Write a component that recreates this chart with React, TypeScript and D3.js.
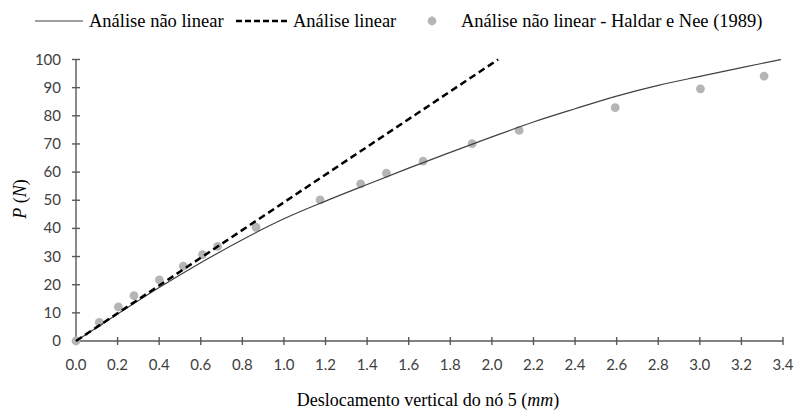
import React from "react";
import * as d3 from "d3";

// Data
const xTicks = [0, 0.2, 0.4, 0.6, 0.8, 1.0, 1.2, 1.4, 1.6, 1.8, 2.0, 2.2, 2.4, 2.6, 2.8, 3.0, 3.2, 3.4];
const yTicks = [0, 10, 20, 30, 40, 50, 60, 70, 80, 90, 100];

// Análise não linear (curve)
const nlX = [0, 0.2, 0.4, 0.6, 0.8, 1.0, 1.2, 1.4, 1.6, 1.8, 2.0, 2.2, 2.4, 2.6, 2.8, 3.0, 3.2, 3.39];
const nlY = [0, 9.6, 19.0, 27.8, 36.0, 43.4, 49.7, 55.6, 61.4, 67.0, 72.5, 77.8, 82.5, 87.0, 90.8, 94.0, 97.1, 100];

// Análise linear
const linX = [0, 2.03];
const linY = [0, 100];

// Haldar e Nee (1989)
const hnX = [0, 0.112, 0.204, 0.279, 0.401, 0.516, 0.608, 0.681, 0.866, 1.174, 1.369, 1.493, 1.669, 1.905, 2.131, 2.593, 3.003, 3.309];
const hnY = [0, 6.6, 12.1, 16.1, 21.7, 26.6, 30.7, 33.6, 40.4, 50.1, 55.8, 59.6, 63.9, 70.1, 74.8, 82.9, 89.6, 94.1];

const legendLabels = ["Análise não linear", "Análise linear", "Análise não linear - Haldar e Nee (1989)"];

export default function App() {
  const W = 795, H = 412;
  const x = d3.scaleLinear().domain([0, 3.4]).range([76, 783]);
  const y = d3.scaleLinear().domain([0, 100]).range([341, 59.5]);
  const axisColor = "#595959";
  const tickFont = "Lato, 'Open Sans', sans-serif";
  const serif = "'Liberation Serif', 'Times New Roman', serif";

  const line = d3.line<[number, number]>().x(d => x(d[0])).y(d => y(d[1])).curve(d3.curveMonotoneX);
  const nlPath = line(nlX.map((v, i) => [v, nlY[i]] as [number, number])) || "";
  const linPath = d3.line<[number, number]>().x(d => x(d[0])).y(d => y(d[1]))(linX.map((v, i) => [v, linY[i]] as [number, number])) || "";

  return (
    <svg width={W} height={H} style={{ position: "absolute", left: 0, top: 0, background: "#fff" }}>
      <rect width={W} height={H} fill="#fff" />
      {/* Legend */}
      <g fontFamily={serif} fontSize={18.5} fill="#000">
        <line x1={35} x2={83} y1={21} y2={21} stroke="#404040" strokeWidth={1.2} />
        <text x={89} y={27}>{legendLabels[0]}</text>
        <line x1={236} x2={288} y1={21} y2={21} stroke="#000" strokeWidth={2.5} strokeDasharray="6,3" />
        <text x={293} y={27}>{legendLabels[1]}</text>
        <circle cx={432} cy={21} r={4.4} fill="#b5b5b5" />
        <text x={461} y={27}>{legendLabels[2]}</text>
      </g>

      {/* Axes */}
      <line x1={x(0)} x2={x(3.4)} y1={y(0)} y2={y(0)} stroke={axisColor} strokeWidth={1.4} />
      <line x1={x(0)} x2={x(0)} y1={y(0)} y2={y(100)} stroke={axisColor} strokeWidth={1.4} />
      {xTicks.map(t => (
        <g key={"x" + t}>
          <line x1={x(t)} x2={x(t)} y1={y(0) - 4} y2={y(0) + 4} stroke={axisColor} strokeWidth={1.4} />
          <text x={x(t)} y={370} textAnchor="middle" fontFamily={tickFont} fontSize={15} fill="#404040">{t.toFixed(1)}</text>
        </g>
      ))}
      {yTicks.map(t => (
        <g key={"y" + t}>
          <line x1={x(0) - 4} x2={x(0) + 4} y1={y(t)} y2={y(t)} stroke={axisColor} strokeWidth={1.4} />
          <text x={61} y={y(t) + 5} textAnchor="end" fontFamily={tickFont} fontSize={15} fill="#404040">{t}</text>
        </g>
      ))}

      {/* Axis titles */}
      <text x={428} y={406} textAnchor="middle" fontFamily={serif} fontSize={18} fill="#000">
        Deslocamento vertical do nó 5 (<tspan fontStyle="italic">mm</tspan>)
      </text>
      <text transform="translate(26,199) rotate(-90)" textAnchor="middle" fontFamily={serif} fontSize={18} fill="#000">
        <tspan fontStyle="italic">P</tspan> (<tspan fontStyle="italic">N</tspan>)
      </text>

      {/* Data points */}
      {hnX.map((v, i) => (
        <circle key={"p" + i} cx={x(v)} cy={y(hnY[i])} r={4.4} fill="#b5b5b5" />
      ))}

      {/* Lines */}
      <path d={nlPath} fill="none" stroke="#404040" strokeWidth={1.2} />
      <path d={linPath} fill="none" stroke="#000" strokeWidth={2.5} strokeDasharray="7,4" />
    </svg>
  );
}
